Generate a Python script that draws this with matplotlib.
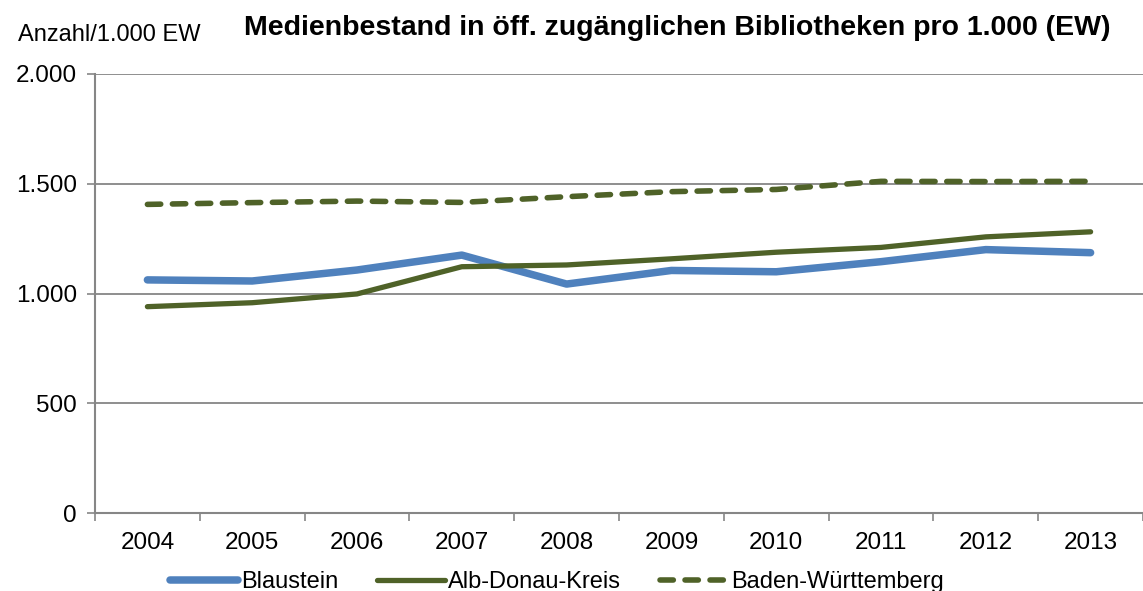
# Medienbestand in öffentlich zugänglichen Bibliotheken pro 1.000 EW,
# Blaustein vs. Alb-Donau-Kreis vs. Baden-Württemberg, 2004-2013.

import numpy as np
import matplotlib
matplotlib.use("Agg")
import matplotlib.pyplot as plt

years = ["2004", "2005", "2006", "2007", "2008", "2009", "2010", "2011", "2012", "2013"]
blaustein = [1062, 1057, 1107, 1175, 1043, 1105, 1099, 1145, 1200, 1186]
alb_donau = [940, 958, 998, 1122, 1130, 1158, 1188, 1210, 1258, 1281]
baden_wuerttemberg = [1406, 1414, 1421, 1415, 1441, 1464, 1474, 1511, 1510, 1511]
y_ticks = [0, 500, 1000, 1500, 2000]
y_tick_labels = ["0", "500", "1.000", "1.500", "2.000"]

plt.rcParams["font.family"] = ["Liberation Sans", "DejaVu Sans"]

BLUE = "#4F81BD"
GREEN = "#4F6228"
GRID = "#868686"

fig = plt.figure(figsize=(11.43, 5.91), dpi=100)
ax = fig.add_axes([95 / 1143, 1 - 513 / 591, 1 - 95 / 1143, (513 - 74) / 591])

x = np.arange(len(years))
ax.plot(x, blaustein, color=BLUE, linewidth=5.4, solid_capstyle="round",
        solid_joinstyle="round", label="Blaustein")
ax.plot(x, alb_donau, color=GREEN, linewidth=3.8, solid_capstyle="round",
        solid_joinstyle="round", label="Alb-Donau-Kreis")
ax.plot(x, baden_wuerttemberg, color=GREEN, linewidth=4.0, linestyle=(0, (2.4, 2.1)),
        dash_capstyle="round", label="Baden-Württemberg")

ax.set_xlim(-0.5, len(years) - 0.5)
ax.set_ylim(0, 2000)

ax.set_yticks(y_ticks)
ax.set_yticklabels(y_tick_labels)
ax.set_xticks(x)
ax.set_xticklabels(years)
ax.set_xticks(np.arange(-0.5, len(years), 1), minor=True)

ax.tick_params(axis="y", length=6, width=1.2, color=GRID, pad=7, labelsize=17.5)
ax.tick_params(axis="x", which="major", length=0, pad=14, labelsize=17.5)
ax.tick_params(axis="x", which="minor", length=6, width=1.2, color=GRID)

ax.yaxis.grid(True, color=GRID, linewidth=1.3)
ax.set_axisbelow(True)
for side in ["top", "right"]:
    ax.spines[side].set_visible(False)
for side in ["left", "bottom"]:
    ax.spines[side].set_color(GRID)
    ax.spines[side].set_linewidth(1.5)

fig.text(18 / 1143, 1 - 35 / 591, "Anzahl/1.000 EW", fontsize=17,
         ha="left", va="center")
fig.text(677 / 1143, 1 - 28 / 591,
         "Medienbestand in öff. zugänglichen Bibliotheken pro 1.000 (EW)",
         fontsize=20.5, fontweight="bold", ha="center", va="center")

fig.legend(loc="center", bbox_to_anchor=(557 / 1143, 9 / 591), ncol=3,
           frameon=False, fontsize=17, handlelength=2.85, handletextpad=0.15,
           columnspacing=1.65)

fig.savefig("out.png", dpi=100)
